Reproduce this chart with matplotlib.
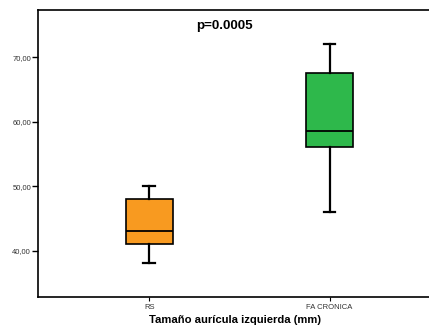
import matplotlib
matplotlib.use('Agg')
import matplotlib.pyplot as plt

plt.rcParams['font.family'] = ['Liberation Sans', 'DejaVu Sans']

# Box statistics
groups = ['RS', 'FA CRONICA']
whislo = [38.0, 46.0]
q1 = [41.0, 56.0]
med = [43.0, 58.5]
q3 = [48.0, 67.5]
whishi = [50.0, 72.0]
colors = ['#F89A20', '#2EB84B']

yticks = [40, 50, 60, 70]
ytick_labels = ['40,00', '50,00', '60,00', '70,00']

stats = []
for i, g in enumerate(groups):
    stats.append({'label': g, 'whislo': whislo[i], 'q1': q1[i], 'med': med[i],
                  'q3': q3[i], 'whishi': whishi[i], 'fliers': []})

fig = plt.figure(figsize=(4.29, 3.26), dpi=100)
ax = fig.add_axes([0.0886, 0.089, 0.915, 0.880])

bp = ax.bxp(stats, positions=[1, 2], widths=0.26, patch_artist=True,
            showfliers=False,
            boxprops=dict(linewidth=1.2, edgecolor='black'),
            medianprops=dict(color='black', linewidth=1.3),
            whiskerprops=dict(color='black', linewidth=1.6),
            capprops=dict(color='black', linewidth=1.6),
            capwidths=0.065)
for patch, c in zip(bp['boxes'], colors):
    patch.set_facecolor(c)

ax.set_xlim(0.383, 2.56)
ax.set_ylim(32.8, 77.3)
ax.set_yticks(yticks)
ax.set_yticklabels(ytick_labels)
ax.set_xticks([1, 2])
ax.set_xticklabels(groups)
ax.tick_params(axis='y', labelsize=5.5, length=4, width=1, pad=1, colors='black')
ax.tick_params(axis='x', labelsize=5.5, length=3, width=0.8, pad=2)
for lab in ax.get_yticklabels() + ax.get_xticklabels():
    lab.set_color('#333333')

ax.spines['right'].set_visible(False)
for s in ['left', 'top', 'bottom']:
    ax.spines[s].set_linewidth(1.2)

ax.text(0.476, 0.945, 'p=0.0005', transform=ax.transAxes, fontsize=9.6,
        fontweight='bold', ha='center', va='center')
ax.set_xlabel('Tamaño aurícula izquierda (mm)', fontsize=8.1, fontweight='bold',
              labelpad=2)
ax.xaxis.set_label_coords(0.503, -0.063)

fig.savefig('out.png', dpi=100)
